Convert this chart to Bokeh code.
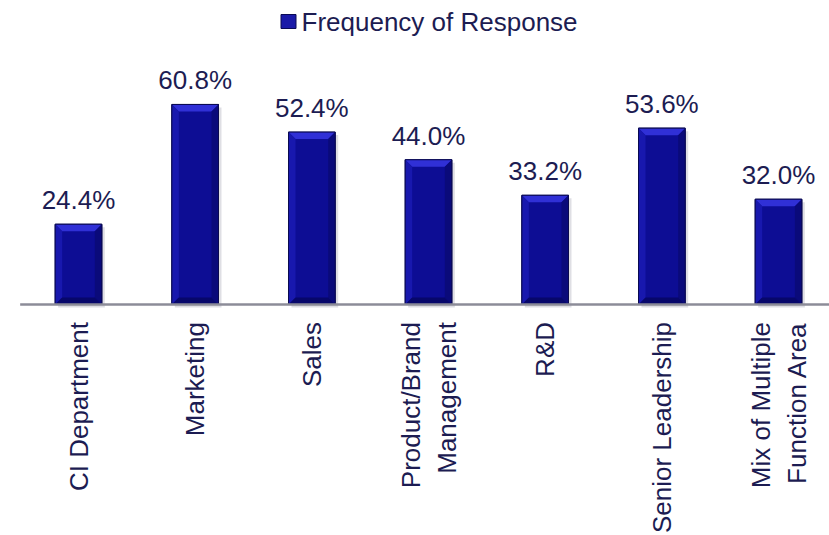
import math
from bokeh.plotting import figure
from bokeh.models import Range1d, ColumnDataSource
from bokeh.embed import file_html
from bokeh.resources import INLINE
from bokeh.core.properties import value

# ---- data ----
categories = ["CI Department", "Marketing", "Sales", "Product/Brand\nManagement",
              "R&D", "Senior Leadership", "Mix of Multiple\nFunction Area"]
values = [24.4, 60.8, 52.4, 44.0, 33.2, 53.6, 32.0]
value_labels = ["24.4%", "60.8%", "52.4%", "44.0%", "33.2%", "53.6%", "32.0%"]
series_name = "Frequency of Response"

# ---- layout ----
W, H = 829, 535
PX_X = 116.67          # pixels per category
PX_Y = 3.29            # pixels per percent
FIRST_PX = 78          # pixel column of the first category centre
X0 = -FIRST_PX / PX_X
ZERO_PY = 304          # pixel row of the baseline
Y1 = ZERO_PY / PX_Y
Y0 = Y1 - H / PX_Y
FONT = "Liberation Sans"
TXT = "#1c1c52"

def px_to_x(px):
    return X0 + px / PX_X

def py_to_y(py):
    return Y1 - py / PX_Y

n = len(categories)
xs = list(range(n))
BW = 0.40
bx = 7 / PX_X
by = 7 / PX_Y

p = figure(width=W, height=H, output_backend="svg", toolbar_location=None,
           x_range=Range1d(X0, X0 + W / PX_X), y_range=Range1d(Y0, Y1),
           x_axis_location=None, y_axis_location=None, min_border=0)
p.grid.visible = False
p.outline_line_color = None
p.background_fill_color = "white"
p.border_fill_color = "white"

# soft shadow
sx = 3 / PX_X
sy = 3 / PX_Y
p.quad(left=[x - BW / 2 + sx for x in xs], right=[x + BW / 2 + sx for x in xs],
       top=[v - sy for v in values], bottom=[-sy] * n,
       fill_color="#b8b8c4", fill_alpha=0.45, line_color=None)

# main bars
src = ColumnDataSource(dict(x=xs, top=values, lab=value_labels))
p.vbar(x="x", top="top", bottom=0, width=BW, source=src,
       fill_color="#0d0d94", line_color="#0a0a55", line_width=1)

# bevels
top_x, top_y, left_x, left_y, right_x, right_y, bot_x, bot_y = [], [], [], [], [], [], [], []
for x, v in zip(xs, values):
    l, r = x - BW / 2, x + BW / 2
    top_x.append([l, r, r - bx, l + bx]); top_y.append([v, v, v - by, v - by])
    left_x.append([l, l + bx, l + bx, l]); left_y.append([v, v - by, by, 0])
    right_x.append([r, r - bx, r - bx, r]); right_y.append([v, v - by, by, 0])
    bot_x.append([l, r, r - bx, l + bx]); bot_y.append([0, 0, by, by])
p.patches(top_x, top_y, fill_color="#3030d6", line_color=None)
p.patches(left_x, left_y, fill_color="#1818ae", line_color=None)
p.patches(right_x, right_y, fill_color="#0a0a7a", line_color=None)
p.patches(bot_x, bot_y, fill_color="#07076a", line_color=None)
p.quad(left=[x - BW / 2 for x in xs], right=[x + BW / 2 for x in xs],
       top=values, bottom=[0] * n, fill_color=None, line_color="#0a0a50", line_width=1)

# baseline (category axis line)
p.segment(x0=[-0.5], y0=[0], x1=[n - 0.5], y1=[0], line_color="#8c8c98", line_width=2.5)

# value labels
p.text(x="x", y="top", text="lab", source=src, text_align="center",
       text_baseline="alphabetic", y_offset=-24, text_font=value(FONT),
       text_font_size="26px", text_color=TXT)

# category labels (rotated)
p.text(x=xs, y=[py_to_y(321.5)] * n, text=categories, angle=math.pi / 2,
       text_align="right", text_baseline="middle", text_font=value(FONT),
       text_font_size="26px", text_color=TXT, text_line_height=1.2)

# legend
leg_y = py_to_y(21)
p.rect(x=[px_to_x(288)], y=[leg_y], width=15, height=14,
       width_units="screen", height_units="screen",
       fill_color="#1a1aa8", line_color="#0a0a55")
p.text(x=[px_to_x(301)], y=[leg_y], text=[series_name], text_align="left",
       text_baseline="middle", text_font=value(FONT), text_font_size="26px",
       text_color=TXT)

open("out.html", "w").write(file_html(p, INLINE))
